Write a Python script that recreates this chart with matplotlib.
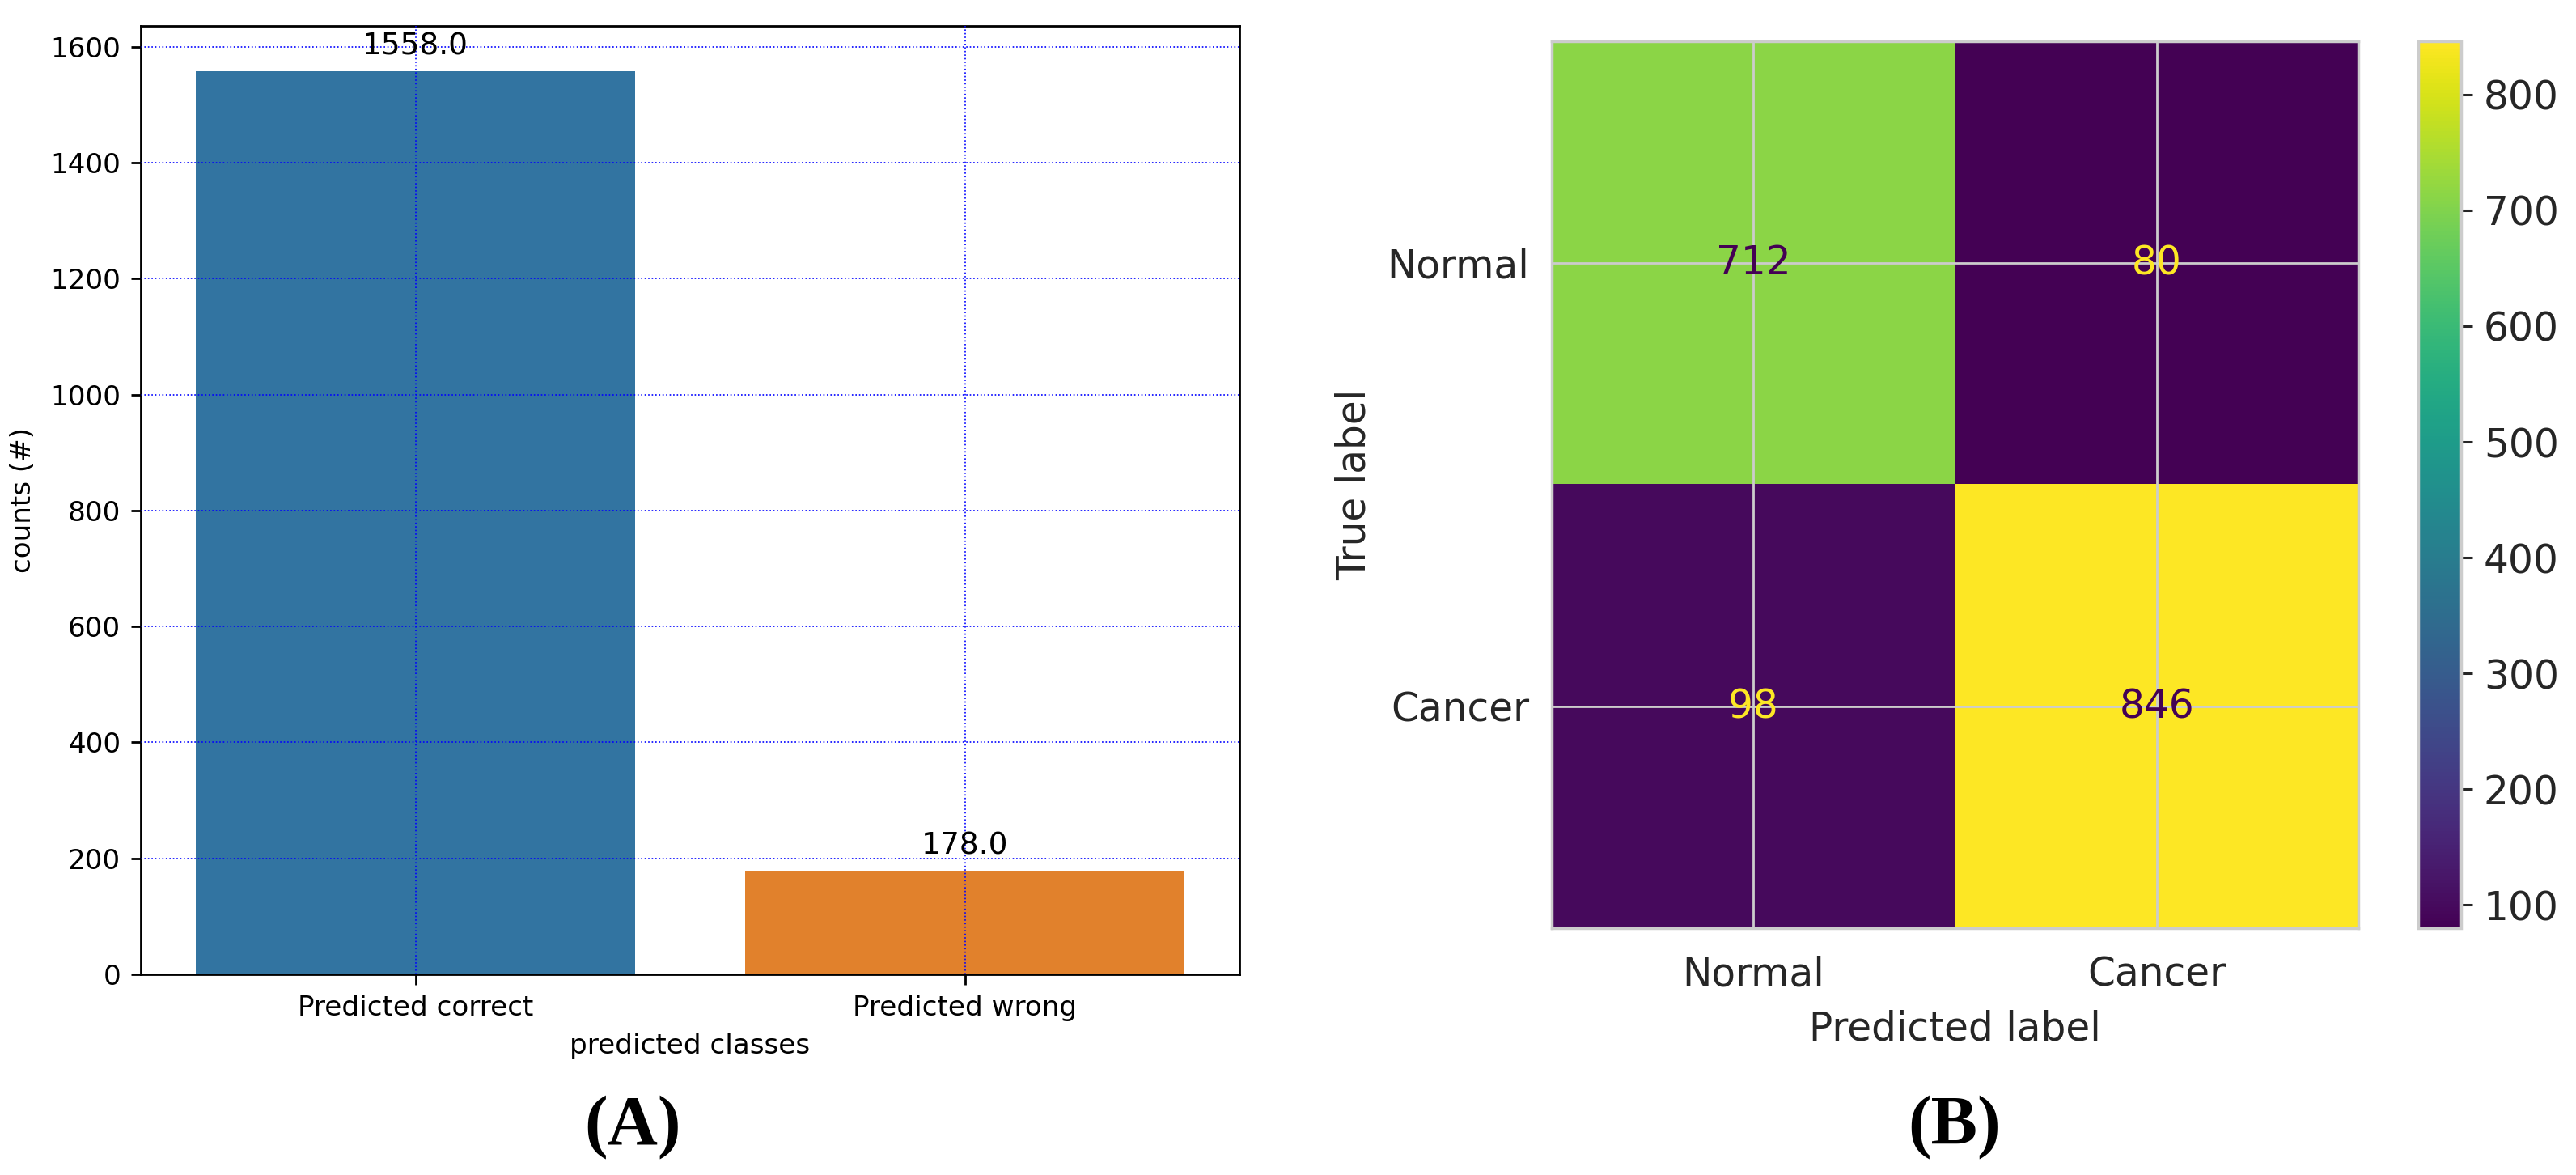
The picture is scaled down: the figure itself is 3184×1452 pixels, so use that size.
import numpy as np
import matplotlib
matplotlib.use("Agg")
import matplotlib.pyplot as plt

# ---- data ----
bar_categories = ["Predicted correct", "Predicted wrong"]
bar_counts = [1558.0, 178.0]
bar_colors = ["#3274a1", "#e1812c"]

cm_labels = ["Normal", "Cancer"]
cm_values = [[712, 80],
             [98, 846]]

W, H = 3184, 1452
DPI = 200
fig = plt.figure(figsize=(W / DPI, H / DPI), dpi=DPI)
plt.rcParams['font.family'] = ['DejaVu Sans']

def frac(x0, y0, x1, y1):
    return [x0 / W, 1 - y1 / H, (x1 - x0) / W, (y1 - y0) / H]

# ---- Panel A: bar chart ----
ax = fig.add_axes(frac(174, 32, 1532, 1204))
x = np.arange(len(bar_categories))
bars = ax.bar(x, bar_counts, width=0.8, color=bar_colors, zorder=1)
ax.set_xlim(-0.5, len(bar_categories) - 0.5)
ax.set_ylim(0, max(bar_counts) * 1.05)
ax.set_xticks(x)
ax.set_xticklabels(bar_categories)
ax.set_yticks(np.arange(0, 1601, 200))
ax.grid(True, color="blue", linestyle=":", linewidth=0.6)
ax.set_axisbelow(False)
for b in bars:
    b.set_zorder(0.5)
for s in ax.spines.values():
    s.set_linewidth(1.0)
    s.set_color("black")
ax.tick_params(axis="both", labelsize=12.3, length=4.5, width=1.0, pad=4.5, colors="black")
ax.set_xlabel("predicted classes", fontsize=12.3, labelpad=5)
ax.set_ylabel("counts (#)", fontsize=12.3, labelpad=6)
for b in bars:
    h = b.get_height()
    ax.annotate(f"{h:.1f}", (b.get_x() + b.get_width() / 2, h),
                ha="center", va="center", xytext=(0, 11),
                textcoords="offset points", fontsize=13.5, color="black")

# ---- Panel B: confusion matrix ----
cm = np.array(cm_values)
axc = fig.add_axes(frac(1918, 51, 2915, 1147))
vmin, vmax = cm.min(), cm.max()
im = axc.imshow(cm, cmap="viridis", vmin=vmin, vmax=vmax, aspect="auto",
                interpolation="nearest", zorder=0)
cmap = plt.get_cmap("viridis")
thresh = (vmax + vmin) / 2.0
for i in range(cm.shape[0]):
    for j in range(cm.shape[1]):
        col = cmap(0.0) if cm[i, j] > thresh else cmap(1.0)
        axc.text(j, i, f"{cm[i, j]}", ha="center", va="center",
                 color=col, fontsize=17.5, zorder=3)
axc.set_xticks(range(len(cm_labels)))
axc.set_yticks(range(len(cm_labels)))
axc.set_xticklabels(cm_labels)
axc.set_yticklabels(cm_labels)
axc.grid(True, color="#cccccc", linewidth=1.0, zorder=1)
axc.set_axisbelow(False)
for s in axc.spines.values():
    s.set_color("#cccccc")
    s.set_linewidth(1.25)
axc.tick_params(axis="x", length=0, pad=12, labelsize=17.5, labelcolor="#262626")
axc.tick_params(axis="y", length=0, pad=10, labelsize=17.5, labelcolor="#262626")
axc.set_xlabel("Predicted label", fontsize=17.5, color="#262626", labelpad=7)
axc.set_ylabel("True label", fontsize=17.5, color="#262626", labelpad=6)

cax = fig.add_axes(frac(2989, 51, 3042, 1147))
cb = fig.colorbar(im, cax=cax)
cb.outline.set_edgecolor("#cccccc")
cb.outline.set_linewidth(1.25)
cb.set_ticks([100, 200, 300, 400, 500, 600, 700, 800])
cax.tick_params(length=5, width=1.1, color="#262626", pad=5,
                labelsize=17.5, labelcolor="#262626")

# ---- panel labels ----
fig.text(782 / W, 1 - 1413 / H, "(A)", ha="center", va="baseline",
         fontsize=31, fontweight="bold", family=["Liberation Serif"])
fig.text(2416 / W, 1 - 1413 / H, "(B)", ha="center", va="baseline",
         fontsize=31, fontweight="bold", family=["Liberation Serif"])

fig.savefig("out.png", dpi=DPI, facecolor="white")
